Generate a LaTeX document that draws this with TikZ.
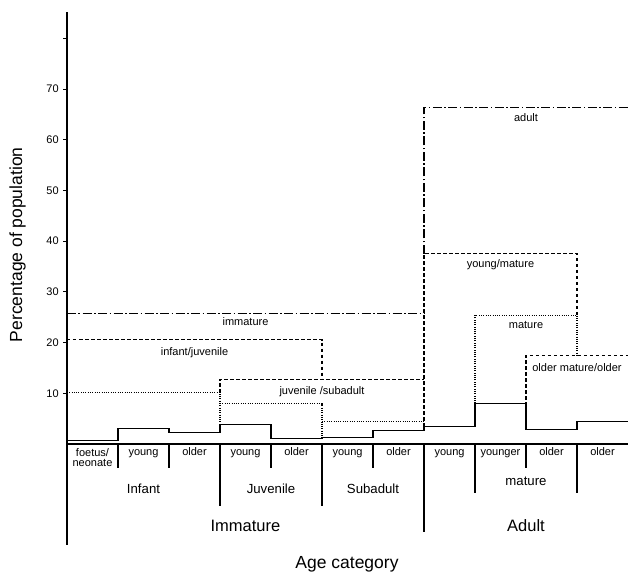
\documentclass[tikz,border=0pt]{standalone}
\usepackage{fontspec}
\setmainfont{Liberation Sans}
\usetikzlibrary{positioning}
\tikzstyle{bar}=[line width=1.1pt]
\tikzstyle{dashline}=[line width=1.1pt,dash pattern=on 3.5pt off 2.5pt]
\tikzstyle{dotline}=[line width=1.1pt,dash pattern=on 1pt off 1.3pt]
\tikzstyle{dashdotline}=[line width=1.1pt,dash pattern=on 9pt off 2.5pt on 1.5pt off 2.5pt]
\tikzstyle{ticklbl}=[anchor=east,inner sep=0pt,font=\fontsize{11}{12}\selectfont]
\tikzstyle{boxlbl}=[anchor=base,inner sep=0pt,font=\fontsize{11}{12}\selectfont]
\tikzstyle{lbl}=[anchor=base,inner sep=0pt,font=\fontsize{11}{10.5}\selectfont]
\tikzstyle{grp}=[anchor=base,inner sep=0pt,font=\fontsize{13.2}{15}\selectfont]
\tikzstyle{big}=[anchor=base,inner sep=0pt,font=\fontsize{16.5}{18}\selectfont]
\tikzstyle{title}=[anchor=base,inner sep=0pt,font=\fontsize{17.5}{20}\selectfont]
\begin{document}
\begin{tikzpicture}[x=51pt,y=5.07pt]
\useasboundingbox (-1.3137,-25.84) rectangle (11,87.57);
\draw[bar] (0,85.2) -- (0,-19.9);
\foreach \v in {10,20,...,80} \draw[bar] (0,\v) -- (-0.08,\v);
\foreach \v in {10,20,...,70} \node[ticklbl] (T\v) at (-0.16,\v) {\v};
\draw[bar] (0,0) -- (11,0);
\draw[bar] (0,0.6) -- (1,0.6) -- (1,3.0) -- (2,3.0) -- (2,2.3) -- (3,2.3) -- (3,3.9) -- (4,3.9) -- (4,1.1) -- (5,1.1) -- (5,1.3) -- (6,1.3) -- (6,2.6) -- (7,2.6) -- (7,3.4) -- (8,3.4) -- (8,8.0) -- (9,8.0) -- (9,2.8) -- (10,2.8) -- (10,4.4) -- (11,4.4);
\foreach \i/\d in {1/-4.8,2/-4.8,3/-12.2,4/-4.8,5/-12.2,6/-4.8,7/-17.4,8/-9.7,9/-4.8,10/-9.7}
  \draw[bar] (\i,0) -- (\i,\d);
\draw[dotline] (0,10.1) -- (3,10.1) -- (3,3.9);
\draw[dashline] (3,10.1) -- (3,12.8) -- (7,12.8);
\draw[dashline] (0,20.6) -- (5,20.6) -- (5,12.8);
\draw[dotline] (3,7.9) -- (5,7.9) -- (5,1.3);
\draw[dotline] (5,4.4) -- (7,4.4);
\draw[dashdotline] (0,25.8) -- (7,25.8);
\draw[dashdotline] (7,37.5) -- (7,66.3) -- (11,66.3);
\draw[dashline] (7,3.4) -- (7,37.5) -- (10,37.5) -- (10,25.4);
\draw[dotline] (8,8.0) -- (8,25.4) -- (10,25.4) -- (10,17.4);
\draw[dashline] (9,2.8) -- (9,17.4) -- (11,17.4);
\node[boxlbl] (ad) at (9,63.6) {adult};
\node[boxlbl] (ym) at (8.5,34.85) {young/mature};
\node[boxlbl] (ma) at (9,22.8) {mature};
\node[boxlbl] (om) at (10,14.26) {older mature/older};
\node[boxlbl] (im) at (3.5,23.3) {immature};
\node[boxlbl] (ij) at (2.5,17.55) {infant/juvenile};
\node[boxlbl] (js) at (5,9.8) {juvenile /subadult};
\node[lbl,anchor=north,align=center] (c0) at (0.5,-0.85) {foetus/\\neonate};
\node[lbl] (c1) at (1.5,-2.37) {young};
\node[lbl] (c2) at (2.5,-2.37) {older};
\node[lbl] (c3) at (3.5,-2.37) {young};
\node[lbl] (c4) at (4.5,-2.37) {older};
\node[lbl] (c5) at (5.5,-2.37) {young};
\node[lbl] (c6) at (6.5,-2.37) {older};
\node[lbl] (c7) at (7.5,-2.37) {young};
\node[lbl] (c8) at (8.5,-2.37) {younger};
\node[lbl] (c9) at (9.5,-2.37) {older};
\node[lbl] (c10) at (10.5,-2.37) {older};
\node[grp] (If) at (1.5,-9.72) {Infant};
\node[grp] (Jv) at (4,-9.72) {Juvenile};
\node[grp] (Sa) at (6,-9.72) {Subadult};
\node[grp] (Ma) at (9,-8.28) {mature};
\node[big] (Im) at (3.5,-17.3) {Immature};
\node[big] (Ad) at (9,-17.3) {Adult};
\node[title] (X) at (5.49,-24.65) {Age category};
\node[title,rotate=90] (Y) at (-0.88,39.3) {Percentage of population};
\end{tikzpicture}
\end{document}
